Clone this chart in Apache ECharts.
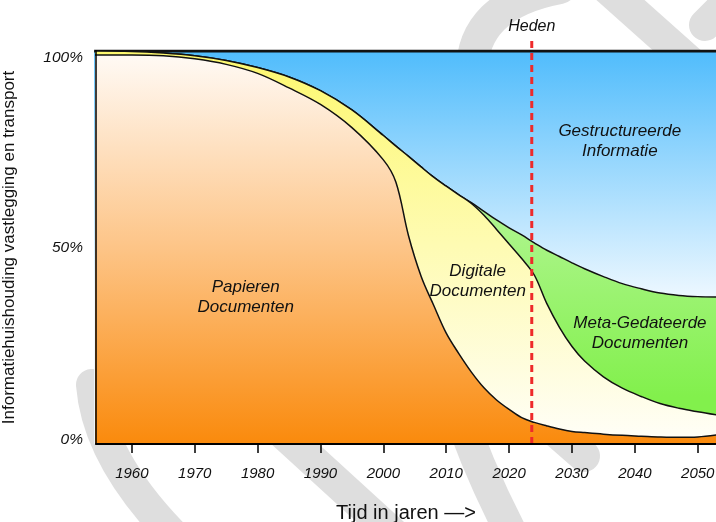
<!DOCTYPE html>
<html>
<head>
<meta charset="utf-8">
<script src="https://cdn.jsdelivr.net/npm/echarts@6.0.0/dist/echarts.min.js"></script>
<style>
  html, body { margin: 0; padding: 0; background: #ffffff; }
  #chart { width: 716px; height: 522px; }
</style>
</head>
<body>
<div id="chart"></div>
<script>
// ---- data ----
const years = [1954, 1960, 1965, 1970, 1975, 1980, 1985, 1990, 1995, 2000, 2002, 2004, 2006, 2008, 2010, 2012, 2014, 2016, 2018, 2020, 2022, 2024, 2026, 2028, 2030, 2032, 2035, 2038, 2041, 2044, 2047, 2050, 2053];
const paperDocs = [99.0, 99.0, 98.8, 98.0, 96.6, 94.3, 90.6, 86.4, 80.5, 72.3, 66.6, 53.0, 42.7, 35.3, 28.2, 23.0, 18.3, 14.3, 11.2, 8.8, 6.7, 5.5, 4.6, 3.8, 3.2, 2.9, 2.5, 2.2, 2.0, 1.8, 1.7, 1.8, 2.3];
const digitalDocs = [1.0, 0.9, 0.7, 0.8, 1.0, 1.5, 2.8, 3.5, 4.5, 6.2, 9.2, 20.2, 27.8, 32.6, 37.4, 40.4, 42.9, 43.9, 43.4, 42.1, 40.5, 37.5, 31.1, 25.9, 21.6, 18.2, 14.6, 12.0, 10.1, 8.5, 7.4, 6.4, 5.1];
const metaDocs = [0, 0, 0, 0, 0, 0, 0, 0, 0, 0, 0, 0, 0, 0, 0, 0, 0.2, 1.0, 2.4, 4.1, 6.0, 8.2, 13.6, 18.0, 21.3, 23.5, 25.5, 26.6, 27.4, 28.1, 28.7, 29.3, 30.0];
const structuredInfo = [0, 0.1, 0.5, 1.2, 2.4, 4.2, 6.6, 10.1, 15.0, 21.5, 24.2, 26.8, 29.5, 32.1, 34.4, 36.6, 38.6, 40.8, 43.0, 45.0, 46.8, 48.8, 50.7, 52.3, 53.9, 55.4, 57.4, 59.2, 60.5, 61.6, 62.2, 62.5, 62.6];
const tickYears = [1960, 1970, 1980, 1990, 2000, 2010, 2020, 2030, 2040, 2050];
const yTickLabels = ['0%', '50%', '100%'];
const hedenYear = 2023.6;
const xMin = 1954.3, xMax = 2052.9;

// ---- cumulative tops (stacking done here) ----
const cum = (...arrs) => years.map((_, i) => arrs.reduce((s, a) => s + a[i], 0));
const topPaper = cum(paperDocs);
const topDigital = cum(paperDocs, digitalDocs);
const topMeta = cum(paperDocs, digitalDocs, metaDocs);
const topStructured = cum(paperDocs, digitalDocs, metaDocs, structuredInfo);

// ---- chart ----
const FONT = 'Liberation Sans, Arial, Helvetica, sans-serif';
const pairs = arr => years.map((y, i) => [y, arr[i]]);
const grad = stops => new echarts.graphic.LinearGradient(0, 0, 0, 1,
  stops.map(s => ({ offset: s[0], color: s[1] })));

function areaSeries(name, arr, stops, lineW, z, text, coord) {
  return {
    name, type: 'line', xAxisIndex: 0, yAxisIndex: 0,
    data: pairs(arr), smooth: 0.35, symbol: 'none',
    lineStyle: { color: '#111', width: lineW },
    areaStyle: { color: grad(stops), opacity: 1 },
    z,
    markPoint: {
      symbol: 'circle', symbolSize: 0, silent: true,
      itemStyle: { color: 'transparent' },
      label: {
        show: true, position: 'inside', formatter: text,
        fontFamily: FONT, fontStyle: 'italic', fontSize: 17, lineHeight: 20, color: '#111'
      },
      data: [{ coord }]
    }
  };
}

const wm = { stroke: '#dedede', lineWidth: 32, fill: null, lineCap: 'round' };

const option = {
  animation: false,
  backgroundColor: '#ffffff',
  textStyle: { fontFamily: FONT },
  graphic: [
    { type: 'bezierCurve', z: -10, shape: { x1: 92, y1: 385, cpx1: 98, cpy1: 460, x2: 178, y2: 540 }, style: wm },
    { type: 'line', z: -10, shape: { x1: 250, y1: 403, x2: 400, y2: 540 }, style: wm },
    { type: 'bezierCurve', z: -10, shape: { x1: 455, y1: 400, cpx1: 478, cpy1: 470, x2: 515, y2: 540 }, style: wm },
    { type: 'line', z: -10, shape: { x1: 520, y1: 400, x2: 584, y2: 456 }, style: wm },
    { type: 'bezierCurve', z: -10, shape: { x1: 472, y1: 75, cpx1: 470, cpy1: 5, x2: 560, y2: -12 }, style: wm },
    { type: 'line', z: -10, shape: { x1: 598, y1: -20, x2: 690, y2: 62 }, style: wm },
    { type: 'line', z: -10, shape: { x1: 705, y1: 25, x2: 745, y2: -15 }, style: wm }
  ],
  grid: [
    { left: 96, right: 0, top: 51, bottom: 78, outerBoundsMode: 'none', containLabel: false },
    { left: 96, right: 0, top: 37, bottom: 78, outerBoundsMode: 'none', containLabel: false }
  ],
  xAxis: [
    {
      type: 'value', gridIndex: 0, min: xMin, max: xMax, z: 10,
      axisLine: { show: true, lineStyle: { color: '#000', width: 2 } },
      axisTick: { show: true, customValues: tickYears, length: 9, lineStyle: { color: '#000', width: 1.5 } },
      axisLabel: { customValues: tickYears, formatter: v => String(v), margin: 22,
        fontFamily: FONT, fontStyle: 'italic', fontSize: 15, color: '#111' },
      splitLine: { show: false },
      name: 'Tijd in jaren \u2014>', nameLocation: 'middle', nameGap: 59,
      nameTextStyle: { fontFamily: FONT, fontSize: 20, color: '#111' }
    },
    { type: 'value', gridIndex: 1, min: xMin, max: xMax, show: false }
  ],
  yAxis: [
    {
      type: 'value', gridIndex: 0, min: 0, max: 100, interval: 50, z: 10,
      axisLine: { show: true, lineStyle: { color: '#000', width: 1.5 } },
      axisTick: { show: false },
      splitLine: { show: false },
      axisLabel: {
        margin: 13,
        formatter: v => {
          const t = yTickLabels[Math.round(v / 50)];
          if (v === 100) return '{a|' + t + '}';
          if (v === 0) return '{b|' + t + '}';
          return '{c|' + t + '}';
        },
        rich: {
          a: { fontFamily: FONT, fontStyle: 'italic', fontSize: 15.5, color: '#111', padding: [14, 0, 0, 0] },
          b: { fontFamily: FONT, fontStyle: 'italic', fontSize: 15.5, color: '#111', padding: [0, 0, 8, 0] },
          c: { fontFamily: FONT, fontStyle: 'italic', fontSize: 15.5, color: '#111' }
        }
      },
      name: 'Informatiehuishouding vastlegging en transport',
      nameLocation: 'middle', nameGap: 78,
      nameTextStyle: { fontFamily: FONT, fontSize: 17, color: '#111' }
    },
    { type: 'value', gridIndex: 1, min: 0, max: 1, show: false }
  ],
  series: [
    areaSeries('Gestructureerde Informatie', topStructured,
      [[0, '#50bcfc'], [0.63, '#eef8ff'], [1, '#eef8ff']], 3, 1,
      'Gestructureerde\nInformatie', [2037.6, 77.1]),
    areaSeries('Meta-Gedateerde Documenten', topMeta,
      [[0, '#d6fac8'], [0.88, '#82f04c'], [1, '#82f04c']], 1.5, 2,
      'Meta-Gedateerde\nDocumenten', [2040.8, 28.2]),
    areaSeries('Digitale Documenten', topDigital,
      [[0, '#fdf86e'], [0.98, '#fffef6'], [1, '#fffef6']], 1.5, 3,
      'Digitale\nDocumenten', [2015.0, 41.5]),
    areaSeries('Papieren Documenten', topPaper,
      [[0, '#fffaf5'], [0.5, '#fdc486'], [1, '#fa8a0c']], 1.5, 4,
      'Papieren\nDocumenten', [1978.1, 37.4]),
    {
      name: 'Heden', type: 'line', xAxisIndex: 1, yAxisIndex: 1, z: 6,
      data: [[hedenYear, 0], [hedenYear, 1]], symbol: 'none',
      lineStyle: { color: '#ee2a2a', width: 3, type: [7, 5] },
      markPoint: {
        symbol: 'circle', symbolSize: 0, silent: true,
        itemStyle: { color: 'transparent' },
        label: { show: true, position: 'top', distance: 2, formatter: 'Heden',
          fontFamily: FONT, fontStyle: 'italic', fontSize: 16, color: '#111' },
        data: [{ coord: [hedenYear, 1] }]
      }
    }
  ]
};

const chart = echarts.init(document.getElementById('chart'), null, { renderer: 'canvas' });
chart.setOption(option);
</script>
</body>
</html>
